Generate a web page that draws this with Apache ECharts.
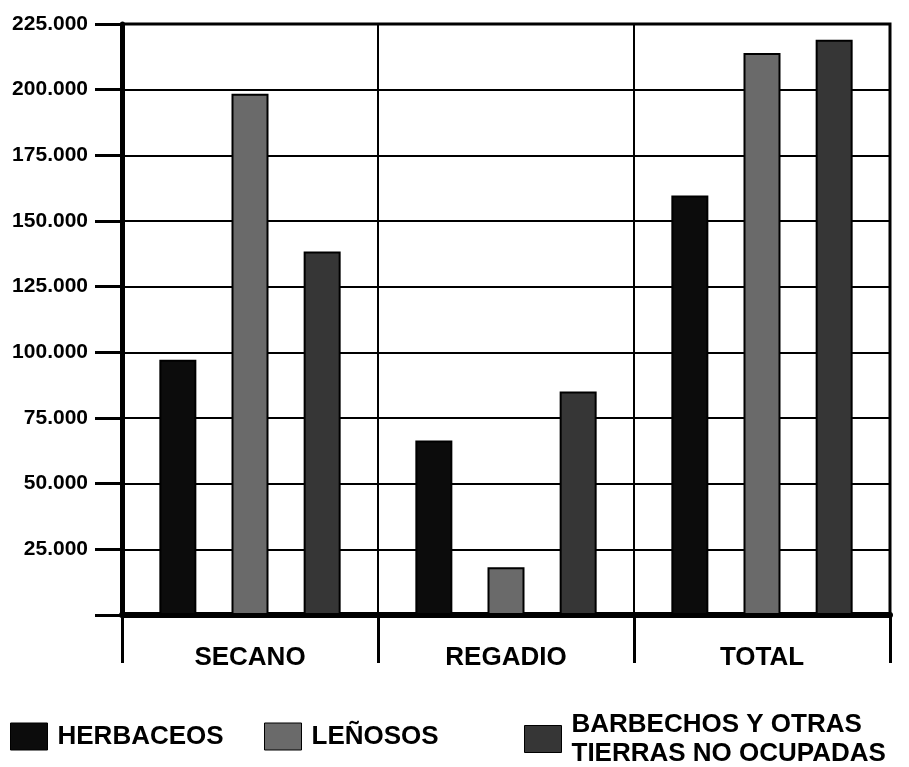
<!DOCTYPE html>
<html>
<head>
<meta charset="utf-8">
<script src="https://cdn.jsdelivr.net/npm/echarts@6/dist/echarts.min.js"></script>
<style>
html,body{margin:0;padding:0;background:#fff;}
#c{width:909px;height:767px;}
</style>
</head>
<body>
<div id="c"></div>
<script>
const categories = ['SECANO', 'REGADIO', 'TOTAL'];
const seriesNames = ['HERBACEOS', 'LEÑOSOS', 'BARBECHOS Y OTRAS TIERRAS NO OCUPADAS'];
const herbaceos = [97200, 66400, 159700];
const lenosos = [198400, 18200, 214000];
const barbechos = [138400, 85100, 219000];
const yTicks = [0, 25000, 50000, 75000, 100000, 125000, 150000, 175000, 200000, 225000];

const FONT = '"Liberation Sans", Arial, Helvetica, sans-serif';
const colors = ['#0c0c0c', '#6a6a6a', '#363636'];

function fmt(v) {
  if (v === 0) return '';
  return String(v).replace(/\B(?=(\d{3})+(?!\d))/g, '.');
}

const chart = echarts.init(document.getElementById('c'));
const legendText = {color: '#000', fontFamily: FONT, fontWeight: 'bold', fontSize: 26, lineHeight: 29, padding: [0, 0, 0, 5]};
const legendBase = {padding: 0, itemWidth: 37, itemHeight: 27, icon: 'rect', textStyle: legendText, selectedMode: false,
  itemStyle: {borderColor: '#000', borderWidth: 1}};
const mkSeries = (name, data, color) => ({
  name: name, type: 'bar', data: data, barWidth: 37, barGap: '95%',
  itemStyle: {color: color, borderColor: '#000', borderWidth: 2}
});

chart.setOption({
  animation: false,
  backgroundColor: '#fff',
  grid: {left: 122, right: 19, top: 24, bottom: 152, show: true, borderColor: '#000', borderWidth: 3, backgroundColor: 'transparent'},
  legend: [
    Object.assign({left: 10, top: 722, data: [seriesNames[0]]}, legendBase),
    Object.assign({left: 264, top: 722, data: [seriesNames[1]]}, legendBase),
    Object.assign({left: 524, top: 710, data: [seriesNames[2]],
     formatter: n => n.replace('OTRAS ', 'OTRAS\n')}, legendBase)
  ],
  xAxis: {
    type: 'category', data: categories,
    axisLine: {lineStyle: {color: '#000', width: 6}},
    axisTick: {show: true, length: 48, lineStyle: {color: '#000', width: 3}},
    splitLine: {show: true, interval: 0, lineStyle: {color: '#000', width: 2}},
    axisLabel: {color: '#000', fontFamily: FONT, fontWeight: 'bold', fontSize: 26, margin: 30}
  },
  yAxis: {
    type: 'value', min: yTicks[0], max: yTicks[yTicks.length - 1], interval: yTicks[1] - yTicks[0],
    axisLine: {show: true, lineStyle: {color: '#000', width: 5}},
    axisTick: {show: true, length: 27, lineStyle: {color: '#000', width: 3}},
    splitLine: {show: true, lineStyle: {color: '#000', width: 2}},
    axisLabel: {color: '#000', fontFamily: FONT, fontWeight: 'bold', fontSize: 21, margin: 34, formatter: fmt}
  },
  series: [
    mkSeries(seriesNames[0], herbaceos, colors[0]),
    mkSeries(seriesNames[1], lenosos, colors[1]),
    mkSeries(seriesNames[2], barbechos, colors[2])
  ]
});
</script>
</body>
</html>
